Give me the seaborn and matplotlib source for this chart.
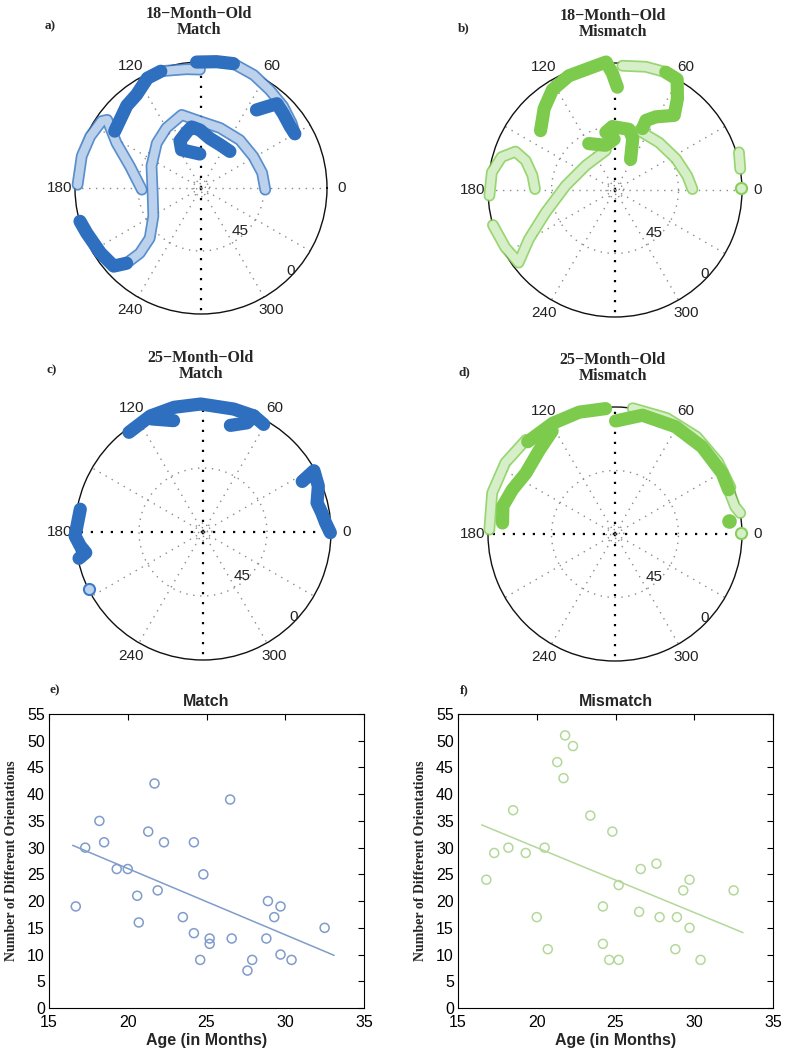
import numpy as np
import matplotlib
matplotlib.use("Agg")
import matplotlib.pyplot as plt
import matplotlib.patheffects as pe
import seaborn as sns

sns.set_style("white")
plt.rcParams['font.family'] = ['Liberation Sans', 'DejaVu Sans']

W, H = 785, 1049

# ------------------------------------------------------------------ data
# e) / f) scatter: age (months) vs number of different orientations
match_age = [16.7, 17.3, 18.2, 18.5, 19.3, 20.0, 20.6, 20.7, 21.3, 21.7, 21.9, 22.3, 23.5, 24.2, 24.2,
             24.6, 24.8, 25.2, 25.2, 26.5, 26.6, 27.6, 27.9, 28.8, 28.9, 29.3, 29.7, 29.7, 30.4, 32.5]
match_n = [19, 30, 35, 31, 26, 26, 21, 16, 33, 42, 22, 31, 17, 14, 31,
           9, 25, 13, 12, 39, 13, 7, 9, 13, 20, 17, 19, 10, 9, 15]
mismatch_age = [16.8, 17.3, 18.2, 18.5, 19.3, 20.0, 20.5, 20.7, 21.3, 21.7, 21.8, 22.3, 23.4, 24.2, 24.2,
                24.6, 24.8, 25.2, 25.2, 26.5, 26.6, 27.6, 27.8, 28.8, 28.9, 29.3, 29.7, 29.7, 30.4, 32.5]
mismatch_n = [24, 29, 30, 37, 29, 17, 30, 11, 46, 43, 51, 49, 36, 12, 19,
              9, 33, 23, 9, 18, 26, 27, 17, 11, 17, 22, 24, 15, 9, 22]
fit_age_range = [16.5, 33.1]

# polar trajectories: azimuth (deg) and normalised radius; "dense" = tightly packed samples
# a) 18-month-old, match
a_left_az = [178.5, 165, 155, 146, 144, 152, 163, 181.6]
a_left_r = [0.98, 0.98, 0.97, 0.95, 0.92, 0.76, 0.59, 0.47]
a_upleft_az = [146.6, 132, 124.6, 116, 109]
a_upleft_r = [0.82, 0.88, 0.90, 0.97, 0.98]
a_topleft_az = [109, 103, 97, 90.5]
a_topleft_r = [0.98, 0.96, 0.95, 0.94]
a_top_az = [92, 83, 75.4]
a_top_r = [1.0, 1.01, 1.02]
a_right_az = [75.4, 65, 55, 45, 35.6, 30]
a_right_r = [1.02, 0.99, 0.95, 0.92, 0.885, 0.86]
a_hook_az = [54.6, 51, 48, 42, 34.7, 30]
a_hook_r = [0.76, 0.83, 0.90, 0.88, 0.86, 0.86]
a_s_az = [92, 117, 114, 104, 98.7, 91, 80, 66, 51.7]
a_s_r = [0.27, 0.34, 0.41, 0.46, 0.49, 0.46, 0.40, 0.375, 0.37]
a_low_az = [195.4, 201.5, 212.8, 221.8, 225.3]
a_low_r = [0.996, 0.975, 0.95, 0.93, 0.84]
a_loop_az = [225.3, 226.8, 224.4, 210.7, 186, 156, 134.6, 120, 104.8, 91, 72.4, 51, 31, 14, -1.5]
a_loop_r = [0.84, 0.71, 0.57, 0.44, 0.386, 0.43, 0.50, 0.55, 0.60, 0.53, 0.50, 0.49, 0.485, 0.50, 0.51]

# b) 18-month-old, mismatch
b_arc_az = [141.4, 131, 122, 112, 102, 94, 91.3, 88.7]
b_arc_r = [0.75, 0.85, 0.93, 0.97, 0.98, 1.01, 0.92, 0.81]
b_top_az = [86.6, 76, 66.7]
b_top_r = [0.98, 1.0, 1.01]
b_hook_az = [66.7, 60.7, 55.6, 51.6, 60.8, 66, 65.9]
b_hook_r = [1.01, 1.0, 0.87, 0.75, 0.66, 0.60, 0.53]
b_mid_az = [119.5, 102, 91, 99, 92.4, 77, 71, 63]
b_mid_r = [0.42, 0.36, 0.40, 0.46, 0.50, 0.49, 0.43, 0.27]
b_inner_az = [68, 47, 27, 11, 0.7]
b_inner_r = [0.505, 0.51, 0.54, 0.58, 0.61]
b_diag_az = [196, 207.7, 217, 209.7, 198, 175, 140, 103]
b_diag_r = [1.0, 0.975, 0.95, 0.78, 0.575, 0.39, 0.30, 0.32]
b_loop_az = [182.6, 171.8, 163.8, 158.9, 161.8, 170, 179.3]
b_loop_r = [0.99, 0.98, 0.93, 0.84, 0.74, 0.66, 0.63]
b_edge_az = [16.9, 9.5]
b_edge_r = [1.02, 1.0]
b_dot_az = [0.9]
b_dot_r = [0.99]

# c) 25-month-old, match
c_top_az = [126.6, 114.4, 103, 91, 76, 66.4, 60.6]
c_top_r = [0.97, 0.995, 1.0, 1.0, 0.99, 0.99, 0.965]
c_hookr_az = [66.4, 68, 75.6]
c_hookr_r = [0.99, 0.92, 0.86]
c_hookl_az = [114.4, 104.8]
c_hookl_r = [0.97, 0.90]
c_right_az = [27, 28.9, 21.7, 14.4, 9.2, 4.4, -0.3]
c_right_r = [0.87, 0.99, 0.97, 0.92, 0.94, 0.96, 0.995]
c_left_az = [169.5, 177, 181.8, 186.5, 190, 192]
c_left_r = [0.975, 0.985, 1.0, 0.965, 0.93, 0.99]
c_dot_az = [206.6]
c_dot_r = [1.0]

# d) 25-month-old, mismatch
d_outer_az = [94.3, 106.4, 119.4, 133.4]
d_outer_r = [0.99, 1.0, 1.0, 1.0]
d_outerlow_az = [133.4, 147, 161.5, 178]
d_outerlow_r = [1.02, 1.03, 1.02, 0.99]
d_inner_az = [121.4, 132, 145.7, 156.6, 166, 174.4]
d_inner_r = [0.95, 0.89, 0.85, 0.88, 0.91, 0.89]
d_right_az = [89.7, 77, 60.6, 45, 29.6, 21.3]
d_right_r = [0.89, 0.96, 0.97, 0.97, 0.97, 0.96]
d_rout_az = [82, 66, 50, 35, 22]
d_rout_r = [1.0, 1.0, 1.0, 0.99, 0.98]
d_edge_az = [21.3, 12.9, 9.5]
d_edge_r = [0.96, 0.97, 1.0]
d_blob_az = [6.3]
d_blob_r = [0.90]
d_dot_az = [0.5]
d_dot_r = [0.99]

angle_ticks = [0, 60, 120, 180, 240, 300]
spoke_angles = list(range(0, 360, 30))
ring_radii = [0.035, 0.07, 0.5]

# ------------------------------------------------------------------ styles
BLUE = dict(dense='#2f6fbf', edge='#3d7bc6', inner='#bcd1ec', pt='#7f9ccb')
GREEN = dict(dense='#7dcb4d', edge='#86cf58', inner='#d6efc8', pt='#b3d89a')

fig = plt.figure(figsize=(W / 100, H / 100), dpi=100)


def fx(x):
    return x / W


def fy(y):
    return 1 - y / H


def draw_seg(ax, az, r, pal, dense):
    th = np.deg2rad(az)
    if len(az) == 1:
        sns.lineplot(x=th, y=r, ax=ax, sort=False, estimator=None, marker='o',
                     markersize=9 if dense else 8, lw=0,
                     markerfacecolor=pal['dense'] if dense else pal['inner'],
                     markeredgecolor=pal['dense'] if dense else pal['edge'],
                     markeredgewidth=1.5, clip_on=False, zorder=5, legend=False)
        return
    if dense:
        sns.lineplot(x=th, y=r, ax=ax, sort=False, estimator=None, color=pal['dense'],
                     lw=9.5, solid_capstyle='round', solid_joinstyle='round',
                     clip_on=False, zorder=6, legend=False)
    else:
        sns.lineplot(x=th, y=r, ax=ax, sort=False, estimator=None, color=pal['inner'],
                     lw=6, solid_capstyle='round', solid_joinstyle='round', clip_on=False, zorder=5,
                     legend=False,
                     path_effects=[pe.Stroke(linewidth=8.5, foreground=pal['edge'], alpha=0.85),
                                   pe.Normal()])


def polar_panel(cx, cy, R, letter, title, segs, pal, black_horizontal):
    ax = fig.add_axes([fx(cx - R), fy(cy + R), 2 * R / W, 2 * R / H], projection='polar')
    ax.set_ylim(0, 1)
    ax.set_xticks([])
    ax.set_yticks([])
    ax.grid(False)
    ax.set_facecolor('none')
    ax.spines['polar'].set_color('#111111')
    ax.spines['polar'].set_linewidth(1.0)
    for a in spoke_angles:
        black = a in (90, 270) or (black_horizontal and a in (0, 180))
        ax.plot([np.deg2rad(a)] * 2, [0, 1], color='black' if black else '#8a8a8a',
                lw=1.6 if black else 1.0, ls=(0, (1, 3.5)) if black else (0, (1, 4)), zorder=2)
    tt = np.linspace(0, 2 * np.pi, 361)
    for rr in ring_radii:
        ax.plot(tt, np.full_like(tt, rr), color='#8a8a8a', lw=1.0, ls=(0, (1, 4)), zorder=2)
    for a in angle_ticks:
        ax.text(np.deg2rad(a), 1.12, str(a), ha='center', va='center', fontsize=11,
                color='#222222', clip_on=False)
    ax.text(np.deg2rad(-48), 0.46, '45', ha='center', va='center', fontsize=11, color='#222222')
    ax.text(np.deg2rad(-43), 0.97, '0', ha='center', va='center', fontsize=11, color='#222222')
    for az, r, dense in segs:
        draw_seg(ax, az, r, pal, dense)
    ax.set_xlabel('')
    ax.set_ylabel('')
    fig.text(fx(cx - 2), fy(cy - 166), title, ha='center', va='center', fontsize=11.5,
             fontweight='bold', family='Liberation Serif', linespacing=1.0)
    fig.text(fx(cx - 151), fy(cy - 162), letter, ha='center', va='center', fontsize=9.5,
             fontweight='bold', family='Liberation Serif')
    return ax


polar_panel(201, 188, 126, 'a)', '18\u2212Month\u2212Old\nMatch',
            [(a_left_az, a_left_r, False), (a_topleft_az, a_topleft_r, False),
             (a_right_az, a_right_r, False), (a_loop_az, a_loop_r, False),
             (a_upleft_az, a_upleft_r, True), (a_top_az, a_top_r, True),
             (a_hook_az, a_hook_r, True), (a_s_az, a_s_r, True), (a_low_az, a_low_r, True)],
            BLUE, False)

polar_panel(615, 190, 127, 'b)', '18\u2212Month\u2212Old\nMismatch',
            [(b_top_az, b_top_r, False), (b_inner_az, b_inner_r, False), (b_diag_az, b_diag_r, False),
             (b_loop_az, b_loop_r, False), (b_edge_az, b_edge_r, False), (b_dot_az, b_dot_r, False),
             (b_arc_az, b_arc_r, True), (b_hook_az, b_hook_r, True), (b_mid_az, b_mid_r, True)],
            GREEN, False)

polar_panel(203, 532, 128, 'c)', '25\u2212Month\u2212Old\nMatch',
            [(c_dot_az, c_dot_r, False),
             (c_top_az, c_top_r, True), (c_hookr_az, c_hookr_r, True), (c_hookl_az, c_hookl_r, True),
             (c_right_az, c_right_r, True), (c_left_az, c_left_r, True)],
            BLUE, True)

polar_panel(615, 534, 127, 'd)', '25\u2212Month\u2212Old\nMismatch',
            [(d_outerlow_az, d_outerlow_r, False), (d_rout_az, d_rout_r, False),
             (d_edge_az, d_edge_r, False), (d_dot_az, d_dot_r, False),
             (d_outer_az, d_outer_r, True), (d_inner_az, d_inner_r, True),
             (d_right_az, d_right_r, True), (d_blob_az, d_blob_r, True)],
            GREEN, True)


def scatter_panel(left, letter, title, ages, counts, pal):
    ax = fig.add_axes([fx(left), fy(1008), 315 / W, 294 / H])
    sns.scatterplot(x=ages, y=counts, ax=ax, s=42, marker='o', color=pal['pt'], linewidth=1.1,
                    legend=False, zorder=3)
    pts = ax.collections[-1]
    pts.set_facecolor('none')
    pts.set_edgecolor(pal['pt'])
    slope, intercept = np.polyfit(ages, counts, 1)
    xs = np.array(fit_age_range)
    sns.lineplot(x=xs, y=slope * xs + intercept, ax=ax, color=pal['pt'], lw=1.1, legend=False)
    ax.set_xlim(15, 35)
    ax.set_ylim(0, 55)
    ax.set_xticks(range(15, 36, 5))
    ax.set_yticks(range(0, 56, 5))
    ax.tick_params(direction='in', top=True, right=True, length=4, width=0.8,
                   labelsize=11.5, colors='black')
    ax.tick_params(axis='x', pad=5)
    ax.tick_params(axis='y', pad=3)
    for s in ax.spines.values():
        s.set_color('black')
        s.set_linewidth(0.8)
    ax.set_xlabel('Age (in Months)', fontsize=11.5, fontweight='bold', labelpad=2)
    ax.set_ylabel('')
    ax.set_title(title, fontsize=11.5, fontweight='bold', pad=6)
    fig.text(fx(left - 37), fy(861), 'Number of Different Orientations', rotation=90,
             ha='center', va='center', fontsize=10, fontweight='bold', family='Liberation Serif')
    fig.text(fx(left + 6), fy(690), letter, ha='center', va='center', fontsize=9.5,
             fontweight='bold', family='Liberation Serif')
    return ax


scatter_panel(49, 'e)', 'Match', match_age, match_n, BLUE)
scatter_panel(458, 'f)', 'Mismatch', mismatch_age, mismatch_n, GREEN)

fig.savefig('out.png', dpi=100)
